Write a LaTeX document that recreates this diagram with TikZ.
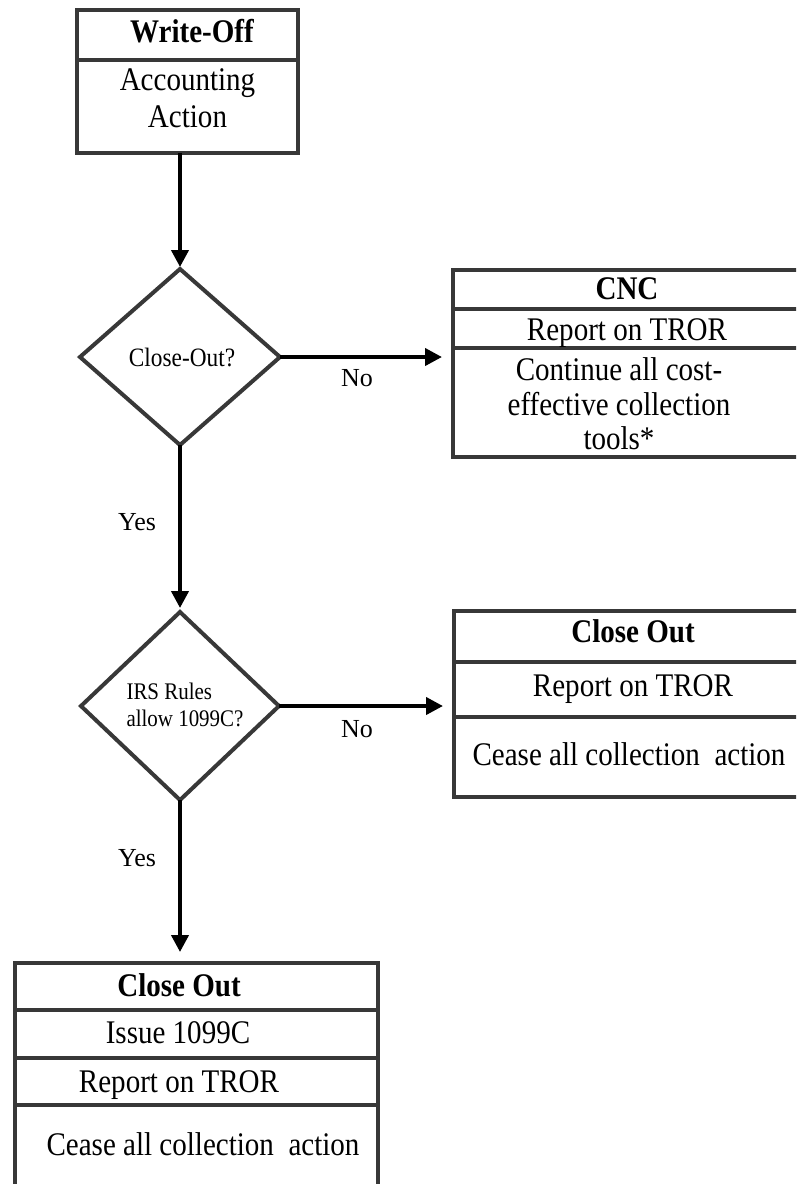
\documentclass[tikz,border=0pt]{standalone}
\usepackage{fontspec}
\setmainfont{Liberation Serif}
\newfontfamily\tallserif{Liberation Serif}[FakeStretch=0.88]
\usetikzlibrary{shapes.geometric,arrows.meta}
\definecolor{edgegray}{HTML}{383838}
\tikzset{
  boxshape/.style={draw=edgegray, line width=4pt, rectangle, inner sep=0pt, outer sep=0pt},
  divider/.style={draw=edgegray, line width=4pt},
  decision/.style={draw=edgegray, line width=4pt, diamond, inner sep=0pt, outer sep=0pt},
  flow/.style={draw=black, line width=4pt, -{Triangle[length=17pt,width=17pt]}},
  boxtext/.style={font=\tallserif\fontsize{33}{34.5}\selectfont, inner sep=0pt, align=center},
  boldtext/.style={font=\tallserif\fontsize{33}{34.5}\selectfont\bfseries, inner sep=0pt, align=center},
  lbl/.style={font=\fontsize{26}{30}\selectfont, inner sep=0pt, anchor=base},
}
\begin{document}
\begin{tikzpicture}[x=1pt, y=-1pt]
\useasboundingbox (0,0) rectangle (796,1184);
\clip (0,0) rectangle (796,1184);

% Write-Off box
\node[boxshape, minimum width=221pt, minimum height=143pt] (wo) at (187.5,81.5) {};
\draw[divider] (wo.west |- 0,60) -- (wo.east |- 0,60);
\node[boldtext, anchor=base] (woT) at (192,42.5) {Write-Off};
\node[boxtext, font=\tallserif\fontsize{33}{37.5}\selectfont] (woA) at (187.5,98) {Accounting\\Action};

% Decision 1
\node[decision, minimum width=200pt, minimum height=176pt] (d1) at (180,357) {};
\node[font=\tallserif\fontsize{26.5}{27}\selectfont, inner sep=0pt, anchor=base] (d1t) at (182,366.5) {Close-Out?};

% Decision 2
\node[decision, minimum width=198pt, minimum height=188pt] (d2) at (180,706) {};
\node[font=\tallserif\fontsize{23.8}{26.7}\selectfont, inner sep=0pt, align=left] (d2t) at (185,705) {IRS Rules\\allow 1099C?};

% CNC box
\node[boxshape, minimum width=357pt, minimum height=187pt] (cnc) at (631.5,363.5) {};
\draw[divider] (cnc.west |- 0,309) -- (cnc.east |- 0,309);
\draw[divider] (cnc.west |- 0,348) -- (cnc.east |- 0,348);
\node[boldtext, anchor=base] (cncT) at (627,299) {CNC};
\node[boxtext, anchor=base] (cncR) at (627,340) {Report on TROR};
\node[boxtext] (cncC) at (619,404) {Continue all cost-\\effective collection\\tools*};

% Close Out box (right)
\node[boxshape, minimum width=356pt, minimum height=186pt] (co2) at (632,704) {};
\draw[divider] (co2.west |- 0,662) -- (co2.east |- 0,662);
\draw[divider] (co2.west |- 0,717) -- (co2.east |- 0,717);
\node[boldtext, anchor=base] (co2T) at (633,642.5) {Close Out};
\node[boxtext, anchor=base] (co2R) at (633,696.5) {Report on TROR};
\node[boxtext, anchor=base] (co2C) at (629,765) {Cease all collection\ \ action};

% Close Out box (bottom)
\node[boxshape, minimum width=363pt, minimum height=240pt] (co3) at (196.5,1083) {};
\draw[divider] (co3.west |- 0,1010) -- (co3.east |- 0,1010);
\draw[divider] (co3.west |- 0,1058) -- (co3.east |- 0,1058);
\draw[divider] (co3.west |- 0,1105) -- (co3.east |- 0,1105);
\node[boldtext, anchor=base] (co3T) at (179,996.5) {Close Out};
\node[boxtext, anchor=base] (co3I) at (178,1043) {Issue 1099C};
\node[boxtext, anchor=base] (co3R) at (179,1092.5) {Report on TROR};
\node[boxtext, anchor=base] (co3C) at (203,1155) {Cease all collection\ \ action};

% Connectors
\draw[flow, shorten >=2pt] (wo.south -| d1.north) -- (d1.north);
\draw[flow, shorten >=4pt] (d1.south) -- (d2.north);
\draw[flow, shorten >=11pt] (d2.south) -- (d2.south |- co3.north);
\draw[flow, shorten >=11pt] (d1.east) -- (d1.east -| cnc.west);
\draw[flow, shorten >=11pt] (d2.east) -- (d2.east -| co2.west);

% Labels
\node[lbl] (no1) at (357,386.5) {No};
\node[lbl] (no2) at (357,737) {No};
\node[lbl] (yes1) at (137,530.5) {Yes};
\node[lbl] (yes2) at (137,866.5) {Yes};
\end{tikzpicture}
\end{document}
